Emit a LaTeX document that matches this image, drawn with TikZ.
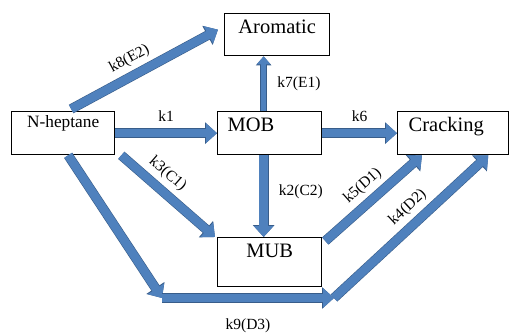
\documentclass[tikz,border=0pt]{standalone}
\usepackage{fontspec}
\setmainfont{Liberation Serif}
\usetikzlibrary{arrows.meta}
\definecolor{flowblue}{RGB}{79,129,189}
\definecolor{flowedge}{RGB}{56,93,138}
\begin{document}
\begin{tikzpicture}
    [
        x = 1pt, y = -1pt,
        box/.style = {draw, line width = 1.3pt, fill = white, anchor = north west, inner ysep = 0pt},
        fat arrow/.style = {draw = flowblue, line width = 8.5pt, -{Triangle[width = 19pt, length = 11pt]},
            preaction = {draw = flowedge, line width = 9.7pt, -{Triangle[width = 21pt, length = 12pt]}}},
        thin arrow/.style = {draw = flowblue, line width = 5.5pt, -{Triangle[width = 13pt, length = 8pt]},
            preaction = {draw = flowedge, line width = 6.5pt, -{Triangle[width = 15pt, length = 9pt]}}},
        rate/.style = {inner sep = 1pt, font = \fontsize{15.5}{18}\selectfont}
    ]

        \useasboundingbox (0,0) rectangle (510,333);

        % species
        \node[box, text width = 87pt, inner xsep = 9pt, align = center, text height = 20pt, text depth = 22pt,
            font = \fontsize{20.5}{24}\selectfont] (aromatic) at (224,13) {Aromatic};
        \node[box, text width = 85pt, inner xsep = 9pt, align = center, text height = 16pt, text depth = 27pt,
            font = \fontsize{17.3}{20}\selectfont] (nh) at (11,111) {N-heptane};
        \node[box, text width = 84pt, inner xsep = 10pt, align = left, text height = 20pt, text depth = 23pt,
            font = \fontsize{20.5}{24}\selectfont] (mob) at (217,111) {MOB};
        \node[box, text width = 89pt, inner xsep = 11pt, align = left, text height = 20pt, text depth = 23pt,
            font = \fontsize{20.5}{24}\selectfont] (crk) at (397,111) {Cracking};
        \node[box, text width = 86pt, inner xsep = 9pt, align = center, text height = 20pt, text depth = 29pt,
            font = \fontsize{20.5}{24}\selectfont] (mub) at (217,237) {MUB};

        \coordinate (k9 turn) at (162,298);
        \coordinate (k9 rise) at (334,298);

        % reactions
        \draw[fat arrow] ([xshift = 8pt, yshift = 2pt]nh.north) -- ([xshift = -6pt, yshift = 5pt]aromatic.west)
            node[rate, pos = 0.45, sloped, above = 4pt] {k8(E2)};
        \draw[fat arrow] (nh.east) -- (mob.west)
            node[rate, midway, above = 6pt] {k1};
        \draw[thin arrow] ([xshift = -6pt]mob.north) -- ([xshift = -13.5pt]aromatic.south)
            node[rate, midway, right = 10pt] {k7(E1)};
        \draw[fat arrow] (mob.east) -- (crk.west)
            node[rate, midway, above = 6pt] {k6};
        \draw[fat arrow] ([xshift = -6pt]mob.south) -- ([xshift = -6pt]mub.north)
            node[rate, pos = 0.45, right = 10pt] {k2(C2)};
        \draw[fat arrow] ([xshift = 6pt]nh.south east) -- ([xshift = -2pt]mub.north west)
            node[rate, pos = 0.38, sloped, above = 4pt] {k3(C1)};
        \draw[fat arrow] ([xshift = 3pt, yshift = -4pt]mub.north east) -- ([xshift = 25pt]crk.south west)
            node[rate, midway, sloped, above = 4pt] {k5(D1)};
        \draw[fat arrow] ([xshift = 5pt]nh.south) -- (k9 turn);
        \draw[fat arrow] (k9 turn) -- (k9 rise)
            node[rate, midway, below = 15pt] {k9(D3)};
        \draw[fat arrow] (k9 rise) -- ([xshift = -21pt]crk.south east)
            node[rate, pos = 0.55, sloped, above = 4pt] {k4(D2)};
    \end{tikzpicture}
\end{document}
